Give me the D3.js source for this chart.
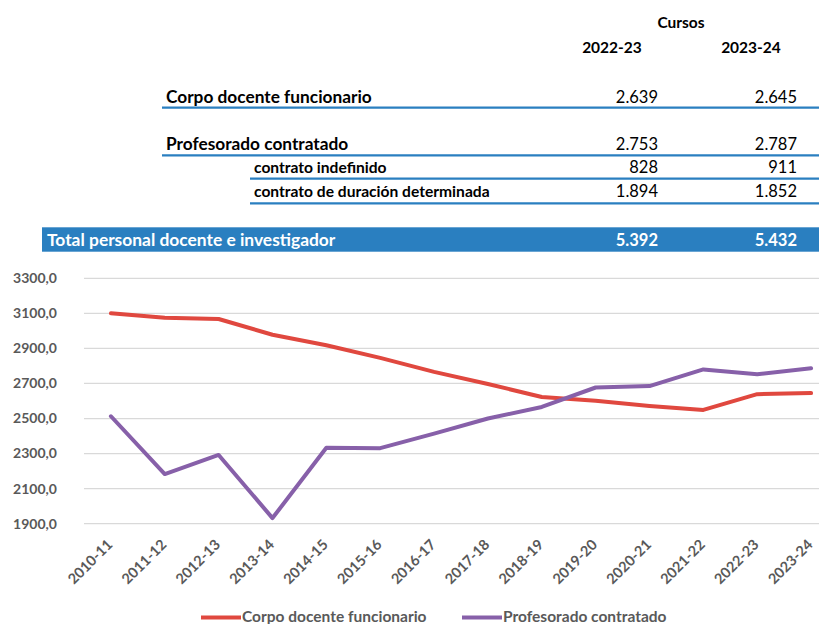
<!DOCTYPE html>
<html>
<head>
    <meta charset="utf-8">
    <style>
        body { margin: 0; background: white; }
        svg { display: block; font-family: Lato, 'Open Sans', sans-serif; }
    </style>
</head>
<body>
    <svg width="819" height="624"></svg>

<script src="https://d3js.org/d3.v7.min.js"></script>
<script>
    // table data
    let cursos = ["2022-23", "2023-24"]
    let rowLabels = ["Corpo docente funcionario", "Profesorado contratado", "contrato indefinido", "contrato de duración determinada"]
    let rowValues = [["2.639", "2.645"], ["2.753", "2.787"], ["828", "911"], ["1.894", "1.852"]]
    let totalLabel = "Total personal docente e investigador"
    let totalValues = ["5.392", "5.432"]

    // chart data
    let years = ["2010-11", "2011-12", "2012-13", "2013-14", "2014-15", "2015-16", "2016-17",
        "2017-18", "2018-19", "2019-20", "2020-21", "2021-22", "2022-23", "2023-24"]
    let funcionario = [3100, 3075, 3068, 2978, 2918, 2846, 2766, 2697, 2623, 2601, 2572, 2549, 2639, 2645]
    let contratado = [2513, 2183, 2292, 1932, 2333, 2331, 2414, 2500, 2566, 2677, 2685, 2780, 2753, 2787]
    let yTicks = [1900, 2100, 2300, 2500, 2700, 2900, 3100, 3300]

    let seriesNames = ["Corpo docente funcionario", "Profesorado contratado"]
    let colors = ["#e0483f", "#8760a9"]

    let svg = d3.select("svg")
    let blue = "#2a7fc0"

    // ---------- table ----------
    let colX = d3.scaleOrdinal().domain(cursos).range([658, 797])  // right edge of values

    svg.append("text")
        .attr("x", 681).attr("y", 28)
        .attr("text-anchor", "middle")
        .style("font-weight", "bold").style("font-size", "15.5px")
        .text("Cursos")

    svg.selectAll(".colhead")
        .data(cursos)
        .join("text")
        .attr("x", d => colX(d) - 46)
        .attr("y", 53)
        .attr("text-anchor", "middle")
        .style("font-weight", "bold").style("font-size", "15.5px")
        .text(d => d)

    let rows = [
        { x: 166, y: 102.5, line: 107.7, lx: 162, size: 17.3 },
        { x: 166, y: 149.5, line: 155.3, lx: 162, size: 17.3 },
        { x: 254, y: 173, line: 178.7, lx: 250, size: 15.6 },
        { x: 254, y: 197, line: 203.3, lx: 250, size: 15.6 }
    ]

    rows.forEach((r, i) => {
        svg.append("text")
            .attr("x", r.x).attr("y", r.y)
            .style("font-weight", "bold").style("font-size", r.size + "px")
            .text(rowLabels[i])

        cursos.forEach((c, j) => {
            svg.append("text")
                .attr("x", colX(c)).attr("y", r.y)
                .attr("text-anchor", "end")
                .style("font-size", "16.5px")
                .text(rowValues[i][j])
        })

        svg.append("line")
            .attr("x1", r.lx).attr("x2", 819)
            .attr("y1", r.line).attr("y2", r.line)
            .attr("stroke", blue).attr("stroke-width", 2.2)
    })

    svg.append("rect")
        .attr("x", 42).attr("y", 227.3)
        .attr("width", 777).attr("height", 24.4)
        .attr("fill", blue)

    svg.append("text")
        .attr("x", 47).attr("y", 245.5)
        .attr("fill", "white")
        .style("font-weight", "bold").style("font-size", "17.4px")
        .text(totalLabel)

    svg.selectAll(".tot")
        .data(totalValues)
        .join("text")
        .attr("x", (d, i) => colX(cursos[i]))
        .attr("y", 245.5)
        .attr("text-anchor", "end")
        .attr("fill", "white")
        .style("font-weight", "bold").style("font-size", "16.5px")
        .text(d => d)

    // ---------- chart ----------
    let x = d3.scalePoint().domain(years).range([84, 838]).padding(0.5)
    let y = d3.scaleLinear().domain([1900, 3300]).range([523.7, 278.3])

    svg.append("g")
        .selectAll("line")
        .data(yTicks)
        .join("line")
        .attr("x1", 84).attr("x2", 819)
        .attr("y1", d => y(d)).attr("y2", d => y(d))
        .attr("stroke", "#d9d9d9").attr("stroke-width", 1.3)

    svg.append("g")
        .selectAll("text")
        .data(yTicks)
        .join("text")
        .attr("x", 57)
        .attr("y", d => y(d))
        .attr("dy", "0.35em")
        .attr("text-anchor", "end")
        .attr("fill", "#595959")
        .style("font-weight", "bold").style("font-size", "14px")
        .text(d => d3.format(".1f")(d).replace(".", ","))

    svg.append("g")
        .selectAll("text")
        .data(years)
        .join("text")
        .attr("transform", d => "translate(" + (x(d) - 1) + ",542) rotate(-45)")
        .attr("text-anchor", "end")
        .attr("dy", "0.35em")
        .attr("fill", "#595959")
        .style("font-weight", "bold").style("font-size", "14.5px")
        .text(d => d)

    let line = d3.line()
        .x((d, i) => x(years[i]))
        .y(d => y(d))

    ;[funcionario, contratado].forEach((s, k) => {
        svg.append("path")
            .datum(s)
            .attr("fill", "none")
            .attr("stroke", colors[k])
            .attr("stroke-width", 4)
            .attr("stroke-linejoin", "round")
            .attr("stroke-linecap", "round")
            .attr("d", line)
    })

    // legend
    let legX = [201, 462]
    seriesNames.forEach((n, k) => {
        svg.append("line")
            .attr("x1", legX[k]).attr("x2", legX[k] + 40)
            .attr("y1", 617.5).attr("y2", 617.5)
            .attr("stroke", colors[k]).attr("stroke-width", 4)
        svg.append("text")
            .attr("x", legX[k] + 41).attr("y", 617)
            .attr("dy", "0.35em")
            .attr("fill", "#595959")
            .style("font-weight", "bold").style("font-size", "15.5px")
            .text(n)
    })
</script>
</body>
</html>
